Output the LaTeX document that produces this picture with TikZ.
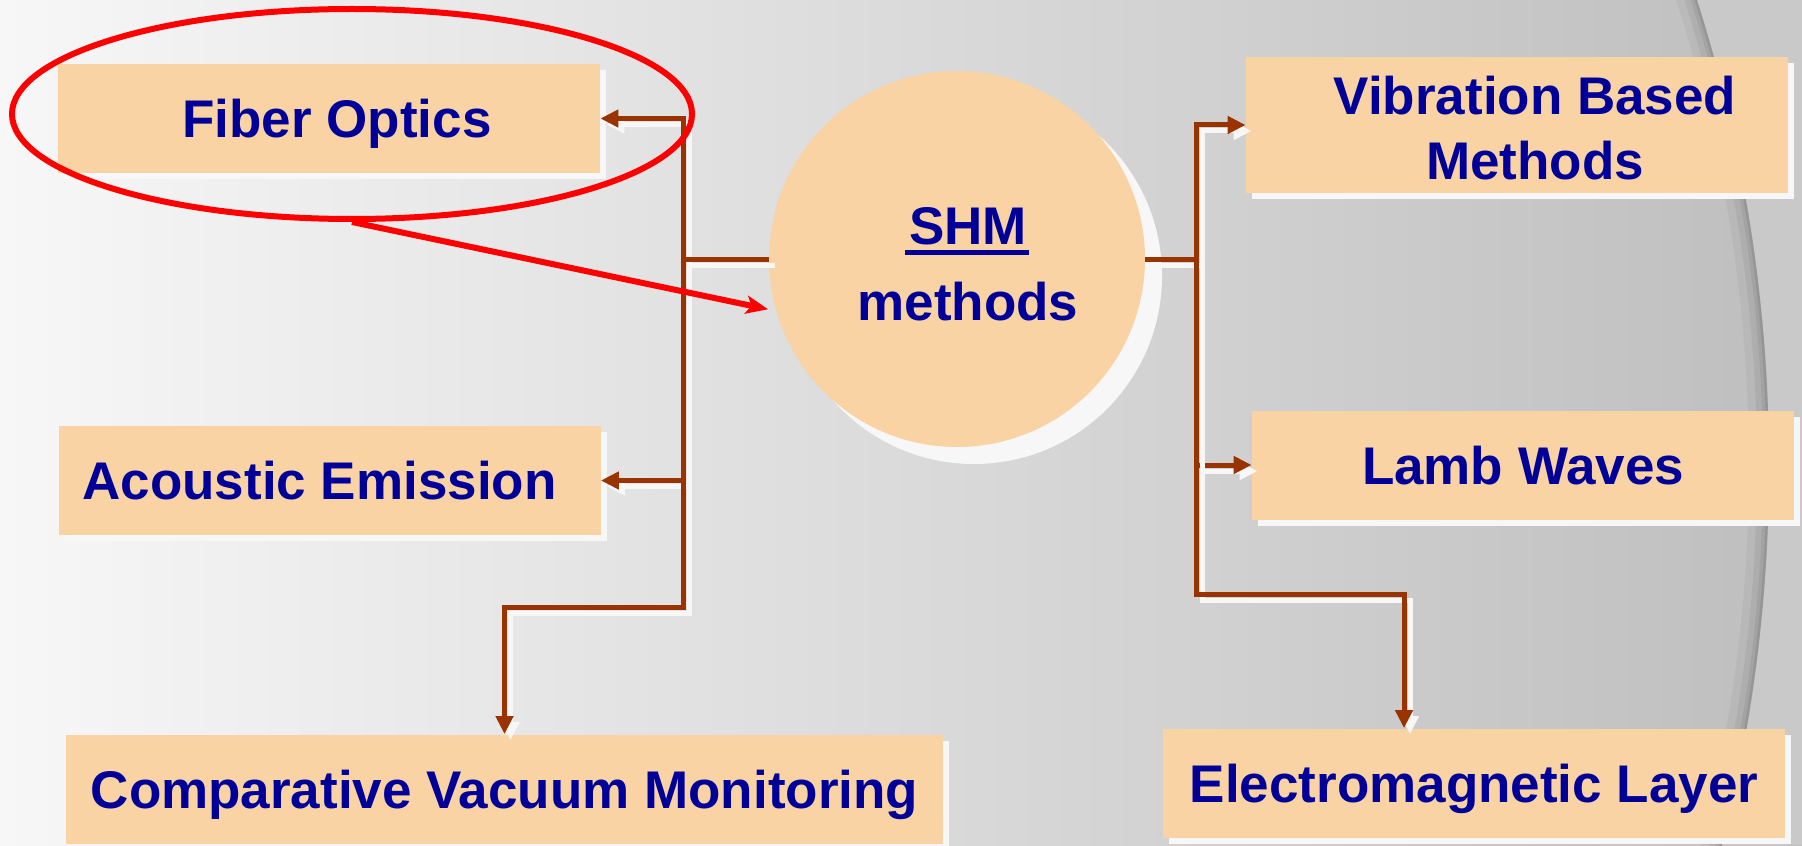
\documentclass[tikz,border=0pt]{standalone}
\usepackage{fontspec}
\setmainfont{Liberation Sans}
\usetikzlibrary{arrows.meta, positioning, shapes.geometric, shadows, calc}

\definecolor{boxfill}{HTML}{F9D3A3}
\definecolor{textblue}{HTML}{000099}
\definecolor{linkbrown}{HTML}{993300}
\definecolor{annored}{HTML}{FF0000}
\definecolor{bgleft}{HTML}{F7F7F7}
\definecolor{bgright}{HTML}{BEBEBE}
\definecolor{bgouter}{HTML}{C9C9C9}
\definecolor{ghost}{HTML}{F7F7F7}

\newcommand{\shmbar}[1]{\setbox0\hbox{#1}\rlap{\kern-2pt\rule[-5.5pt]{\dimexpr\wd0+3pt\relax}{2.5pt}}\box0}

\begin{document}
\begin{tikzpicture}[x=0.5pt, y=-0.5pt,
    method/.style={rectangle, fill=boxfill, inner sep=0pt, minimum width=271pt, minimum height=54.5pt,
        font=\fontsize{26.5}{32.5}\selectfont\bfseries, text=textblue, text height=19pt, text depth=0pt,
        drop shadow={shadow xshift=3pt, shadow yshift=-3pt, fill=ghost, opacity=1}},
    hub/.style={circle, fill=boxfill, inner sep=0pt, minimum size=188pt, align=center,
        font=\fontsize{26.5}{38}\selectfont\bfseries, text=textblue, text height=61pt, text depth=0pt,
        drop shadow={shadow xshift=8.5pt, shadow yshift=-8.5pt, fill=ghost, opacity=1}},
    link/.style={draw=linkbrown, line width=2.5pt, -{Triangle[length=9pt, width=8.5pt]},
        preaction={draw=ghost, line width=2.5pt, -{Triangle[length=9pt, width=8.5pt]},
            transform canvas={shift={(3pt,-3pt)}}}},
    ringmark/.style={ellipse, draw=annored, line width=3pt, inner sep=0pt, minimum width=340pt, minimum height=105pt},
    hint/.style={draw=annored, line width=3pt, -{Stealth[length=11pt, width=9pt, inset=2.5pt]}}
]
\useasboundingbox (0,0) rectangle (1802,845);

% background with the large disc on the right
\shade[left color=bgleft, right color=bgright] (0,0) rectangle (1802,845);
\begin{scope}
    \clip (1600,0) rectangle (1802,845);
    \fill[bgouter, even odd rule] (1600,0) rectangle (1802,845) (234,466) circle[radius=1535];
\end{scope}
\begin{scope}
    \clip (234,466) circle[radius=1535];
    \foreach \w/\o in {20pt/0.04, 12pt/0.05, 6pt/0.06, 2.5pt/0.08}
        \draw[black, opacity=\o, line width=\w] (234,466) circle[radius=1535];
\end{scope}

% methods
\node[hub] (shm) at (957,259) {\hspace*{11pt}\shmbar{SHM}\\\hspace*{11pt}methods};
\node[method] (fiber)    at (329,118.5)   {\hspace*{8pt}Fiber Optics};
\node[method] (acoustic) at (329.5,480.5) {Acoustic Emission\hspace*{10pt}};
\node[method, minimum width=438.5pt] (cvm) at (504.5,789) {Comparative Vacuum Monitoring};
\node[method, minimum height=68pt, align=center, text height=55pt] (vib) at (1517,125)
    {\hspace*{18pt}Vibration Based\\\hspace*{18pt}Methods};
\node[method] (lamb) at (1523,465) {Lamb Waves};
\node[method, minimum width=311pt] (em) at (1474,783) {Electromagnetic Layer};

% junctions
\coordinate (lj) at (683,259);
\coordinate (lk) at (683,607);
\coordinate (rj) at (1196,259);
\coordinate (rk) at (1196,594);

\draw[link] (shm.west) -- (lj) |- (fiber.east);
\draw[link] (lj) |- (acoustic.east);
\draw[link] (lj) -- (lk) -| (cvm.north);
\draw[link] (shm.east) -- (rj) |- (vib.west);
\draw[link] (rj) |- (lamb.west);
\draw[link] (rj) -- (rk) -| ([xshift=-35pt]em.north);

% highlight
\node[ringmark] (ring) at (352,114) {};
\draw[hint, shorten >=4pt] (ring.south) -- (shm.196);
\end{tikzpicture}
\end{document}
